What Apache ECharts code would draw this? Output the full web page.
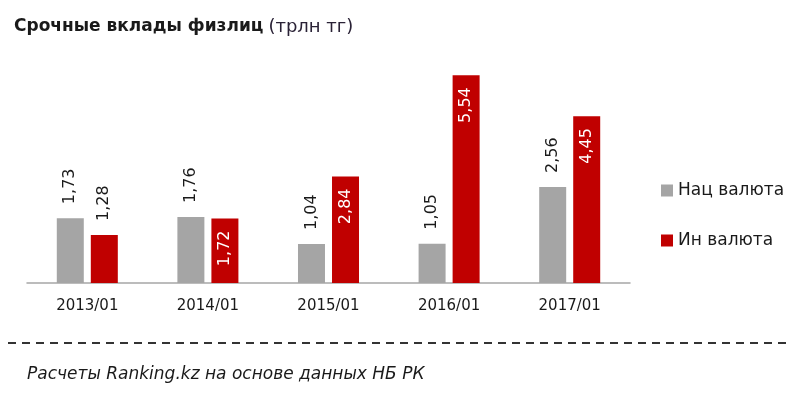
<!DOCTYPE html>
<html>
<head>
    <meta charset="utf-8">
    <script src="https://cdn.jsdelivr.net/npm/echarts@6/dist/echarts.min.js"></script>
    <style>
        body{
            margin:0;
            padding:0;
            background:#fff;
        }
    </style>
</head>
<body>
<div id="main" style="width:800px;height:399px;"></div>
<script type="text/javascript">
var myChart = echarts.init(document.getElementById('main'));

// данные
let categories = ['2013/01', '2014/01', '2015/01', '2016/01', '2017/01'];
let natCurrency = [1.73, 1.76, 1.04, 1.05, 2.56];
let forCurrency = [1.28, 1.72, 2.84, 5.54, 4.45];
let seriesNames = ['Нац валюта', 'Ин валюта'];

const FONT = 'DejaVu Sans';
function fmt(p) {
  return p.value.toFixed(2).replace('.', ',');
}

// метки сверху столбца (тёмные) и внутри (белые)
let labelTop = {
  show: true,
  position: 'top',
  distance: 14,
  rotate: 90,
  align: 'left',
  verticalAlign: 'middle',
  color: '#1a1a1a',
  fontFamily: FONT,
  fontSize: 16,
  formatter: fmt
};
let labelInside = {
  show: true,
  position: 'insideTop',
  distance: 12,
  rotate: 90,
  align: 'right',
  verticalAlign: 'middle',
  color: '#fff',
  fontFamily: FONT,
  fontSize: 16,
  formatter: fmt
};

option = {
  animation: false,
  title: {
    text: '{b|Срочные вклады физлиц} {n|(трлн тг)}',
    left: 9,
    top: 13,
    textStyle: {
      rich: {
        b: { fontFamily: FONT, fontSize: 17, fontWeight: 'bold', color: '#1a1a1a' },
        n: { fontFamily: FONT, fontSize: 18, fontWeight: 'normal', color: '#2a2236' }
      }
    }
  },
  legend: {
    orient: 'vertical',
    left: 656,
    top: 177,
    icon: 'rect',
    itemWidth: 12,
    itemHeight: 12,
    itemGap: 33,
    textStyle: { fontFamily: FONT, fontSize: 17, color: '#1a1a1a' },
    data: seriesNames
  },
  grid: {
    left: 27,
    right: 170,
    top: 58,
    bottom: 116
  },
  xAxis: {
    type: 'category',
    data: categories,
    axisTick: { show: false },
    axisLine: { lineStyle: { color: '#a6a6a6', width: 1.5 } },
    axisLabel: { fontFamily: FONT, fontSize: 15, color: '#1a1a1a', margin: 16 }
  },
  yAxis: {
    type: 'value',
    min: 0,
    max: 6,
    show: false,
    splitLine: { show: false }
  },
  series: [
    {
      name: seriesNames[0],
      type: 'bar',
      barWidth: 27,
      barGap: '26%',
      itemStyle: { color: '#a5a5a5' },
      label: labelTop,
      data: natCurrency
    },
    {
      name: seriesNames[1],
      type: 'bar',
      barWidth: 27,
      barGap: '26%',
      itemStyle: { color: '#c00000' },
      label: labelInside,
      data: forCurrency.map(function (v) {
        // низкий столбец - подпись над ним
        return v < 1.5 ? { value: v, label: labelTop } : v;
      })
    }
  ],
  graphic: [
    {
      type: 'line',
      shape: { x1: 8, y1: 343, x2: 792, y2: 343 },
      style: { stroke: '#333', lineWidth: 2, lineDash: [8, 6] }
    },
    {
      type: 'text',
      left: 27,
      top: 366,
      style: {
        text: 'Расчеты Ranking.kz на основе данных НБ РК',
        font: 'italic 17px "DejaVu Sans"',
        fill: '#1a1a1a'
      }
    }
  ]
};
myChart.setOption(option);
</script>
</body>
</html>
